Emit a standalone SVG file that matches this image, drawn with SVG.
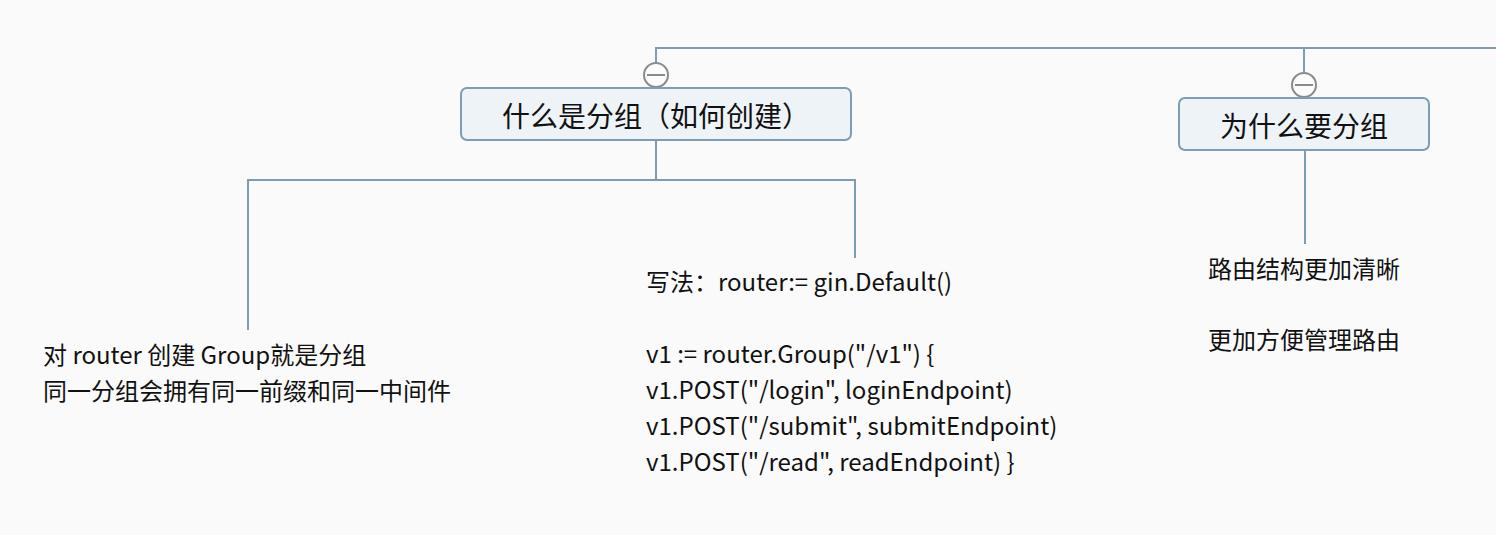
<svg xmlns="http://www.w3.org/2000/svg" width="1496" height="535" viewBox="0 0 1496 535">
<style>
.conn{fill:none;stroke:#7c9db3;stroke-width:2}
.box{fill:#eef3f8;stroke:#7c9db3;stroke-width:2}
.tog{fill:#fbfbfb;stroke:#8a8a8a;stroke-width:2}
.title{font-family:"Noto Sans CJK SC","Noto Sans",sans-serif;font-size:28px;fill:#111;text-anchor:middle}
.txt{font-family:"Noto Sans CJK SC","Noto Sans",sans-serif;font-size:24px;fill:#111}
</style>
<rect width="1496" height="535" fill="#fafafa"/>
<g id="connectors">
<path class="conn" d="M656,62 V48 H1496"/>
<path class="conn" d="M1304,48 V72"/>
<path class="conn" d="M656,140 V180 M248,330 V180 H855 V258"/>
<path class="conn" d="M1305,150 V244"/>
</g>
<g id="node-what">
<circle class="tog" cx="656" cy="75" r="12"/>
<path d="M647,75 H665" stroke="#8a8a8a" stroke-width="2"/>
<rect class="box" x="461" y="88" width="390" height="52" rx="6"/>
<text class="title" x="656" y="127">什么是分组（如何创建）</text>
</g>
<g id="node-why">
<circle class="tog" cx="1304" cy="85" r="12"/>
<path d="M1295,85 H1313" stroke="#8a8a8a" stroke-width="2"/>
<rect class="box" x="1179" y="98" width="250" height="52" rx="6"/>
<text class="title" x="1304" y="137">为什么要分组</text>
</g>
<g id="node-desc">
<text class="txt" x="43" y="364">对 router 创建 Group就是分组</text>
<text class="txt" x="43" y="400">同一分组会拥有同一前缀和同一中间件</text>
</g>
<g id="node-code">
<text class="txt" x="646" y="291">写法：router:= gin.Default()</text>
<text class="txt" x="646" y="363">v1 := router.Group("/v1") {</text>
<text class="txt" x="646" y="399">v1.POST("/login", loginEndpoint)</text>
<text class="txt" x="646" y="435">v1.POST("/submit", submitEndpoint)</text>
<text class="txt" x="646" y="471">v1.POST("/read", readEndpoint) }</text>
</g>
<g id="node-reasons">
<text class="txt" x="1208" y="278">路由结构更加清晰</text>
<text class="txt" x="1208" y="349">更加方便管理路由</text>
</g>
</svg>
